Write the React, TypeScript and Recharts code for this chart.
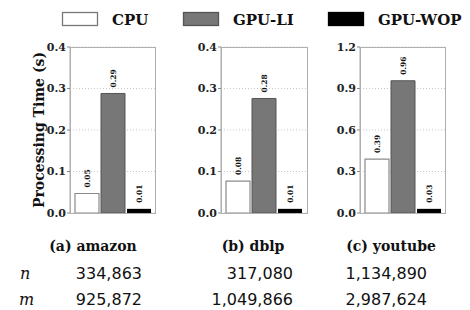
import React from 'react';
import { BarChart, Bar, XAxis, YAxis, CartesianGrid, LabelList } from 'recharts';

const categories = ['amazon', 'dblp', 'youtube'];
const panelLetters = ['a', 'b', 'c'];
const cpuTimes = [0.047, 0.077, 0.39];
const gpuLiTimes = [0.288, 0.276, 0.956];
const gpuWopTimes = [0.01, 0.01, 0.03];
const yMax = [0.4, 0.4, 1.2];
const yTicks = [
  [0, 0.1, 0.2, 0.3, 0.4],
  [0, 0.1, 0.2, 0.3, 0.4],
  [0, 0.3, 0.6, 0.9, 1.2],
];
const nValues = ['334,863', '317,080', '1,134,890'];
const mValues = ['925,872', '1,049,866', '2,987,624'];
const seriesNames = ['CPU', 'GPU-LI', 'GPU-WOP'];

const SERIF = '"DejaVu Serif", serif';
const SANS = '"DejaVu Sans", sans-serif';

const panels = [
  { plotLeft: 70, plotWidth: 85, captionX: 93, valueRight: 142 },
  { plotLeft: 221, plotWidth: 86, captionX: 253, valueRight: 293 },
  { plotLeft: 360, plotWidth: 85, captionX: 391, valueRight: 427 },
];
const PLOT_TOP = 47;
const PLOT_BOTTOM = 213;
const CHART_H = 230;
const YAXIS_W = 40;

const RotLabel = (props: any) => {
  const { x, y, width, value } = props;
  return (
    <text
      transform={`translate(${x + width / 2},${y - 6}) rotate(-90)`}
      textAnchor="start"
      dominantBaseline="central"
      fontFamily={SERIF}
      fontWeight="bold"
      fontSize={7.5}
      fill="#111"
    >
      {Number(value).toFixed(2)}
    </text>
  );
};

const Panel = ({ i }: { i: number }) => {
  const { plotLeft, plotWidth } = panels[i];
  const width = YAXIS_W + plotWidth + 5;
  const data = [
    { name: categories[i], cpu: cpuTimes[i], li: gpuLiTimes[i], wop: gpuWopTimes[i] },
  ];
  return (
    <>
      <div style={{ position: 'absolute', left: plotLeft - YAXIS_W, top: 0 }}>
        <BarChart
          width={width}
          height={CHART_H}
          data={data}
          margin={{ top: PLOT_TOP, right: 5, bottom: CHART_H - PLOT_BOTTOM, left: 0 }}
          barCategoryGap={5}
          barGap={2}
        >
          <CartesianGrid vertical={false} stroke="#c8c8c8" strokeDasharray="1 2" />
          <XAxis dataKey="name" hide />
          <YAxis
            width={YAXIS_W}
            domain={[0, yMax[i]]}
            ticks={yTicks[i]}
            tickFormatter={(v: number) => v.toFixed(1)}
            tickSize={3}
            tickMargin={1}
            axisLine={{ stroke: '#aaa' }}
            tickLine={{ stroke: '#888' }}
            tick={{ fontFamily: SERIF, fontWeight: 'bold', fontSize: 11, fill: '#222' }}
            interval={0}
          />
          <Bar dataKey="cpu" fill="#ffffff" stroke="#8a8a8a" strokeWidth={1.2} isAnimationActive={false}>
            <LabelList dataKey="cpu" content={RotLabel} />
          </Bar>
          <Bar dataKey="li" fill="#777777" stroke="#555" strokeWidth={1} isAnimationActive={false}>
            <LabelList dataKey="li" content={RotLabel} />
          </Bar>
          <Bar dataKey="wop" fill="#000000" isAnimationActive={false}>
            <LabelList dataKey="wop" content={RotLabel} />
          </Bar>
        </BarChart>
      </div>
      <div
        style={{
          position: 'absolute',
          left: plotLeft,
          top: PLOT_TOP,
          width: plotWidth - 1,
          height: PLOT_BOTTOM - PLOT_TOP - 1,
          border: '1px solid #b0b0b0',
          pointerEvents: 'none',
        }}
      />
    </>
  );
};

const legendBoxes = [
  { x: 62, fill: '#ffffff', stroke: '#777' },
  { x: 183, fill: '#777777', stroke: '#555' },
  { x: 328, fill: '#000000', stroke: '#000' },
];

export default function App() {
  return (
    <div style={{ position: 'absolute', left: 0, top: 0, width: 470, height: 310, background: '#fff', overflow: 'hidden' }}>
      {panels.map((_, i) => (
        <Panel key={i} i={i} />
      ))}
      <svg width={470} height={310} style={{ position: 'absolute', left: 0, top: 0, pointerEvents: 'none' }}>
        {seriesNames.map((s, k) => (
          <g key={s}>
            <rect x={legendBoxes[k].x + 0.5} y={12.5} width={35} height={13} fill={legendBoxes[k].fill} stroke={legendBoxes[k].stroke} strokeWidth={1.3} />
            <text x={legendBoxes[k].x + 50} y={25} fontFamily={SERIF} fontWeight="bold" fontSize={15} fill="#111">
              {s}
            </text>
          </g>
        ))}
        <text
          transform="translate(44,130) rotate(-90)"
          textAnchor="middle"
          fontFamily={SERIF}
          fontWeight="bold"
          fontSize={14}
          fill="#111"
        >
          Processing Time (s)
        </text>
        {panels.map((p, i) => (
          <text key={'t' + i} x={p.captionX} y={251} textAnchor="middle" fontFamily={SERIF} fontWeight="bold" fontSize={14} fill="#111">
            ({panelLetters[i]}) {categories[i]}
          </text>
        ))}
        <text x={20} y={279} fontFamily={SERIF} fontStyle="italic" fontSize={16} fill="#111">n</text>
        <text x={19} y={305} fontFamily={SERIF} fontStyle="italic" fontSize={16} fill="#111">m</text>
        {panels.map((p, i) => (
          <g key={'v' + i}>
            <text x={p.valueRight} y={279} textAnchor="end" fontFamily={SANS} fontSize={16} fill="#111">{nValues[i]}</text>
            <text x={p.valueRight} y={305} textAnchor="end" fontFamily={SANS} fontSize={16} fill="#111">{mValues[i]}</text>
          </g>
        ))}
      </svg>
    </div>
  );
}
